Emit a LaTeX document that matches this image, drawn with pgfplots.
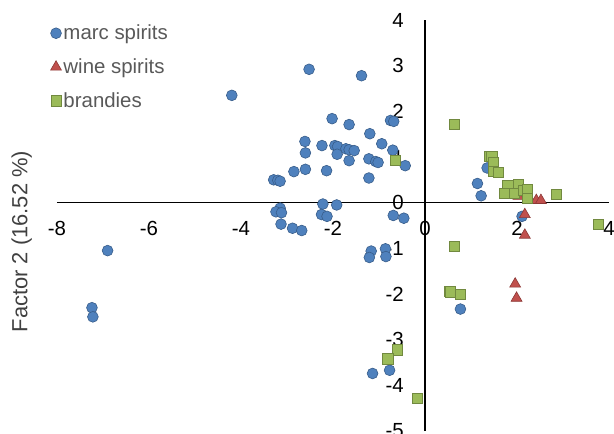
\documentclass[border=0pt]{standalone}
\usepackage{fontspec}
\setmainfont{Liberation Sans}
\usepackage{pgfplots}
\pgfplotsset{compat=1.18}
\definecolor{mblue}{HTML}{4F81BD}
\definecolor{mblueE}{HTML}{385D8A}
\definecolor{wred}{HTML}{C0504D}
\definecolor{wredE}{HTML}{8C3836}
\definecolor{bgreen}{HTML}{9BBB59}
\definecolor{bgreenE}{HTML}{71893F}
\definecolor{legtxt}{HTML}{595959}
\definecolor{labtxt}{HTML}{404040}
\begin{document}
\begin{tikzpicture}
\path[use as bounding box] (-57bp,-3bp) rectangle (557bp,431bp);
\begin{axis}[
 at={(0,0)}, anchor=south west,
 width=552bp, height=411bp, scale only axis,
 xmin=-8, xmax=4, ymin=-5, ymax=4,
 axis lines=middle,
 axis line style={line width=1.3bp,-,black},
 xtick={-8,-6,...,4}, ytick={-5,-4,...,4},
 major tick length=0pt,
 hide obscured x ticks=false, hide obscured y ticks=false,
 tick label style={font=\fontsize{20.5}{24}\selectfont, inner sep=0pt, text=black},
 /pgf/number format/assume math mode=true,
 xticklabel style={anchor=center, yshift=-26bp},
 yticklabel style={anchor=east, xshift=-21bp},
 every axis y label/.style={at={(axis description cs:-0.064,0.461)}, rotate=90, anchor=center, font=\fontsize{22}{24}\selectfont, text=labtxt},
 ylabel={Factor 2 (16.52 \%)},
 legend style={at={(axis description cs:-0.012,0.993)}, anchor=north west, draw=none, fill=none,
   font=\fontsize{20.5}{24}\selectfont, text=legtxt, row sep=13.5bp, inner sep=0pt,
   nodes={inner sep=2bp}},
 legend cell align=left,
 legend image code/.code={\draw[mark repeat=2,mark phase=2,#1] plot coordinates {(0bp,0bp) (6bp,0bp) (12bp,0bp)};},
 clip=false,
]
\addplot[only marks, mark=*, mark size=5.4bp, mark options={fill=mblue, draw=mblueE, line width=0.6bp}] table {
x y
-4.20 2.35
-2.52 2.92
-1.38 2.78
-2.02 1.84
-1.65 1.71
-0.75 1.80
-0.68 1.78
-1.20 1.51
-0.94 1.29
-2.61 1.34
-2.24 1.25
-1.96 1.25
-1.90 1.23
-1.72 1.18
-1.65 1.16
-1.54 1.14
-0.70 1.15
-2.60 1.09
-1.91 1.06
-1.65 0.92
-1.22 0.96
-1.07 0.90
-1.02 0.88
-0.43 0.81
-2.85 0.68
-2.60 0.73
-2.14 0.70
-3.29 0.50
-3.20 0.49
-3.15 0.47
-1.22 0.54
-3.15 -0.12
-3.24 -0.20
-3.12 -0.22
-2.22 -0.03
-1.92 -0.05
-2.25 -0.26
-2.13 -0.30
-0.69 -0.28
-0.46 -0.34
-3.13 -0.47
-2.88 -0.56
-2.68 -0.61
-1.17 -1.06
-1.21 -1.20
-0.86 -1.01
-0.85 -1.18
-6.90 -1.05
-7.24 -2.30
-7.22 -2.50
-1.14 -3.74
-0.77 -3.67
0.77 -2.33
2.11 -0.30
1.14 0.42
1.22 0.15
1.35 0.76
};
\addlegendentry{marc spirits}
\addplot[only marks, mark=triangle*, mark size=6.3bp, mark options={fill=wred, draw=wredE, line width=0.6bp}] table {
x y
1.96 0.23
2.03 0.14
2.28 0.07
2.42 0.05
2.52 0.05
2.17 -0.26
2.17 -0.71
1.96 -1.78
1.99 -2.09
};
\addlegendentry{wine spirits}
\addplot[only marks, mark=square*, mark size=5.1bp, mark options={fill=bgreen, draw=bgreenE, line width=0.6bp}] table {
x y
0.64 1.72
-0.65 0.93
1.40 1.02
1.45 1.02
1.49 0.88
1.48 0.68
1.60 0.66
1.80 0.38
2.03 0.41
1.72 0.21
1.94 0.20
2.13 0.27
2.23 0.28
2.23 0.09
2.86 0.18
3.76 -0.48
0.64 -0.96
0.53 -1.94
0.55 -1.95
0.76 -2.01
-0.60 -3.22
-0.81 -3.42
-0.17 -4.29
};
\addlegendentry{brandies}
\end{axis}
\end{tikzpicture}
\end{document}
